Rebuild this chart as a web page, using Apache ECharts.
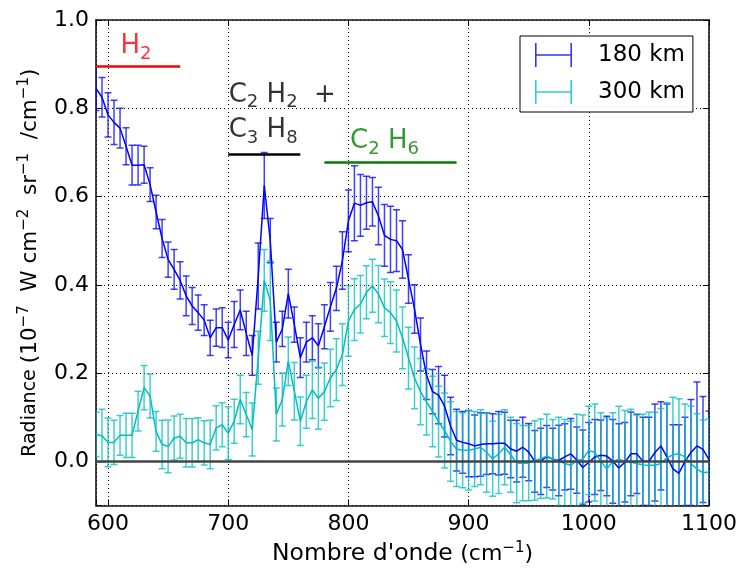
<!DOCTYPE html>
<html><head><meta charset="utf-8">
<script src="https://cdn.jsdelivr.net/npm/echarts@6/dist/echarts.min.js"></script>
<style>html,body{margin:0;padding:0;background:#fff}#c{width:741px;height:571px}</style>
</head><body><div id="c"></div>
<script>
// ---- data ----
const wavenumbers = [590,595,600,605,610,615,620,625,630,635,640,645,650,655,660,665,670,675,680,685,690,695,700,705,710,715,720,725,730,735,740,745,750,755,760,765,770,775,780,785,790,795,800,805,810,815,820,825,830,835,840,845,850,855,860,865,870,875,880,885,890,895,900,905,910,915,920,925,930,935,940,945,950,955,960,965,970,975,980,985,990,995,1000,1005,1010,1015,1020,1025,1030,1035,1040,1045,1050,1055,1060,1065,1070,1075,1080,1085,1090,1095,1100];
const radiance180 = [0.845,0.825,0.785,0.768,0.755,0.714,0.671,0.671,0.672,
  0.627,0.565,0.505,0.457,0.435,0.41,0.375,0.352,0.337,0.32,
  0.28,0.303,0.303,0.275,0.31,0.343,0.29,0.24,
  0.42,0.625,0.5,0.27,0.3,0.38,0.31,0.235,0.27,
  0.28,0.262,0.305,0.35,0.392,0.455,0.545,
  0.585,0.58,0.586,0.588,0.556,0.512,0.503,0.5,0.48,0.413,
  0.345,0.265,0.195,0.158,0.15,0.125,0.08,0.048,
  0.043,0.04,0.035,0.038,0.04,0.04,0.041,0.041,0.028,0.023,0.032,0.021,
  0.0,0.0,0.011,0.005,0.002,0.01,0.017,0.003,-0.014,-0.002,
  0.01,0.014,0.012,0.0,-0.015,-0.002,0.017,0.017,0.0,0.0,
  0.02,0.035,0.01,-0.017,-0.027,0.0,0.02,0.035,0.027,0.004];
const error180 = [0.05,0.045,0.05,0.05,0.045,0.042,0.045,0.045,0.042,
  0.038,0.038,0.043,0.04,0.045,0.042,0.045,0.042,0.04,0.035,
  0.04,0.042,0.045,0.04,0.052,0.045,0.05,0.045,
  0.075,0.075,0.05,0.045,0.04,0.055,0.04,0.045,0.045,
  0.05,0.05,0.05,0.055,0.05,0.065,0.07,
  0.085,0.07,0.06,0.055,0.065,0.07,0.075,0.07,0.065,0.055,
  0.055,0.06,0.055,0.05,0.065,0.07,0.065,0.07,
  0.07,0.075,0.07,0.072,0.07,0.068,0.072,0.07,0.065,0.07,0.068,0.065,
  0.07,0.075,0.07,0.07,0.08,0.075,0.08,0.075,0.085,0.09,
  0.085,0.08,0.09,0.095,0.1,0.09,0.095,0.09,0.1,0.1,
  0.11,0.1,0.12,0.1,0.11,0.1,0.12,0.145,0.12,0.11];
const radiance300 = [0.061,0.058,0.043,0.043,0.059,0.059,0.059,0.114,0.167,
  0.148,0.068,0.038,0.034,0.053,0.057,0.042,0.042,0.049,0.042,
  0.038,0.076,0.083,0.064,0.091,0.14,0.106,0.072,
  0.235,0.41,0.364,0.106,0.14,0.227,0.159,0.091,0.135,
  0.162,0.143,0.158,0.189,0.208,0.242,0.318,
  0.344,0.356,0.383,0.398,0.379,0.348,0.337,0.318,0.28,0.234,
  0.189,0.158,0.135,0.113,0.09,0.07,0.045,0.028,
  0.025,0.025,0.028,0.032,0.02,0.006,0.017,0.032,0.015,-0.004,-0.004,-0.004,
  0.002,0.006,0.012,0.005,0.0,-0.005,-0.009,0.002,0.005,0.025,
  0.02,0.0,-0.017,0.0,0.005,0.0,-0.002,-0.005,-0.008,-0.009,
  -0.009,-0.005,0.008,0.015,0.017,0.01,-0.005,-0.017,-0.026,-0.024];
const error300 = [0.05,0.06,0.055,0.05,0.045,0.05,0.05,0.045,0.05,
  0.05,0.045,0.055,0.06,0.05,0.05,0.055,0.055,0.05,0.05,
  0.055,0.05,0.05,0.06,0.05,0.055,0.05,0.06,
  0.06,0.07,0.09,0.06,0.06,0.055,0.065,0.055,0.06,
  0.065,0.07,0.065,0.065,0.07,0.07,0.08,
  0.07,0.065,0.06,0.06,0.065,0.065,0.07,0.07,0.07,0.07,
  0.07,0.075,0.075,0.08,0.08,0.085,0.09,0.085,
  0.085,0.09,0.085,0.085,0.09,0.085,0.09,0.085,0.085,0.09,0.085,0.085,
  0.09,0.09,0.095,0.09,0.1,0.1,0.1,0.105,0.1,0.1,
  0.11,0.11,0.115,0.11,0.12,0.115,0.12,0.11,0.115,0.12,
  0.12,0.125,0.125,0.13,0.125,0.12,0.13,0.125,0.12,0.12];
const seriesNames = ['180 km','300 km'];
const xTicks = [600,700,800,900,1000,1100];
const yTicks = [0.0,0.2,0.4,0.6,0.8,1.0];
const bandRanges = [[590,660],[700,760],[780,890]];
const bandLevels = [0.895,0.695,0.677];

// ---- build ----
const FONT = 'DejaVu Sans';
const BLUE = '#0000ff', CYAN = '#00bfbf';
const line180 = wavenumbers.map((x,i)=>[x, radiance180[i]]);
const line300 = wavenumbers.map((x,i)=>[x, radiance300[i]]);
const err180 = wavenumbers.map((x,i)=>[x, radiance180[i]-error180[i], radiance180[i]+error180[i]]);
const err300 = wavenumbers.map((x,i)=>[x, radiance300[i]-error300[i], radiance300[i]+error300[i]]);

function errRender(color){
  return function(params, api){
    const x = api.value(0);
    const lo = api.coord([x, api.value(1)]);
    const hi = api.coord([x, api.value(2)]);
    const cw = 3.5;
    const st = {stroke: color, lineWidth: 1.5, opacity: 0.75};
    return {type:'group', children:[
      {type:'line', shape:{x1:lo[0],y1:lo[1],x2:hi[0],y2:hi[1]}, style:st},
      {type:'line', shape:{x1:lo[0]-cw,y1:lo[1],x2:lo[0]+cw,y2:lo[1]}, style:st},
      {type:'line', shape:{x1:hi[0]-cw,y1:hi[1],x2:hi[0]+cw,y2:hi[1]}, style:st}
    ]};
  };
}

const legendIcon = 'path://M0,0H1.6V24H0Z M0,11.2H37V12.8H0Z M35.4,0H37V24H35.4Z';

const axisLineStyle = {color:'#111', width:1.6};
const chart = echarts.init(document.getElementById('c'), null, {renderer:'canvas'});
const subStyle = (c)=>({fontSize:18, color:c, fontFamily:FONT, padding:[15,0,0,0]});
const mainStyle = (c)=>({fontSize:26, color:c, fontFamily:FONT});

chart.setOption({
  animation:false,
  backgroundColor:'#fff',
  textStyle:{fontFamily:FONT},
  grid:{left:96, right:32, top:20, bottom:64},
  legend:{
    data:[{name:seriesNames[0], icon:legendIcon, itemStyle:{color:BLUE, opacity:0.8}},
          {name:seriesNames[1], icon:legendIcon, itemStyle:{color:CYAN, opacity:0.8}}],
    orient:'vertical', left:520, top:36,
    padding:[7,8,8,15], itemGap:13, itemWidth:37, itemHeight:24,
    borderColor:'#000', borderWidth:1, backgroundColor:'#fff',
    textStyle:{fontSize:23, color:'#000', fontFamily:FONT, padding:[0,0,0,21]}
  },
  xAxis:[{
    type:'value', min:590, max:1100, minInterval:100, maxInterval:100, splitNumber:5,
    position:'bottom',
    axisLine:{show:true, onZero:false, lineStyle:axisLineStyle},
    axisTick:{show:true, inside:true, length:6, lineStyle:{color:'#000', width:1}},
    axisLabel:{fontSize:22, color:'#000', margin:8, formatter:v=> xTicks.indexOf(v)>=0 ? String(v) : ''},
    splitLine:{show:true, lineStyle:{color:'#000', width:1, type:[1,3]}},
    name:"Nombre d'onde {p|(cm}{sup|\u22121}{p|)}", nameLocation:'middle', nameGap:35,
    nameTextStyle:{fontSize:23.5, color:'#000', fontFamily:FONT,
      rich:{p:{fontSize:22, color:'#000', fontFamily:FONT}, sup:{fontSize:15, color:'#000', fontFamily:FONT, padding:[0,0,12,0]}}}
  },{
    type:'value', min:590, max:1100, minInterval:100, maxInterval:100, splitNumber:5,
    position:'top',
    axisLine:{show:true, onZero:false, lineStyle:axisLineStyle},
    axisTick:{show:true, inside:true, length:6, lineStyle:{color:'#000', width:1}},
    axisLabel:{show:false}, splitLine:{show:false}
  }],
  yAxis:[{
    type:'value', min:-0.1, max:1.0, minInterval:0.2, maxInterval:0.2, splitNumber:5,
    position:'left',
    axisLine:{show:true, onZero:false, lineStyle:axisLineStyle},
    axisTick:{show:true, inside:true, length:6, lineStyle:{color:'#000', width:1}},
    axisLabel:{fontSize:22, color:'#000', margin:7, formatter:v=> yTicks.some(t=>Math.abs(t-v)<1e-6) ? v.toFixed(1) : ''},
    splitLine:{show:true, lineStyle:{color:'#000', width:1, type:[1,3]}},
    name:'Radiance {p|(10}{sup|\u22127}{p|  W cm}{sup|\u22122}{p|  sr}{sup|\u22121}{p|  /cm}{sup|\u22121}{p|)}',
    nameLocation:'middle', nameGap:52, nameRotate:90,
    nameTextStyle:{fontSize:19, color:'#000', fontFamily:FONT,
      rich:{p:{fontSize:21.5, color:'#000', fontFamily:FONT}, sup:{fontSize:15, color:'#000', fontFamily:FONT, padding:[0,0,12,0]}}}
  },{
    type:'value', min:-0.1, max:1.0, minInterval:0.2, maxInterval:0.2, splitNumber:5,
    position:'right',
    axisLine:{show:true, onZero:false, lineStyle:axisLineStyle},
    axisTick:{show:true, inside:true, length:6, lineStyle:{color:'#000', width:1}},
    axisLabel:{show:false}, splitLine:{show:false}
  }],
  series:[
    {name:seriesNames[0], type:'custom', data:err180, encode:{x:0, y:[1,2]}, renderItem:errRender(BLUE),
     itemStyle:{color:BLUE}, clip:true, z:2, silent:true},
    {name:seriesNames[1], type:'custom', data:err300, encode:{x:0, y:[1,2]}, renderItem:errRender(CYAN),
     itemStyle:{color:CYAN}, clip:true, z:2, silent:true},
    {name:'zero', type:'line', data:[], z:3, silent:true,
     markLine:{silent:true, symbol:'none', label:{show:false}, data:[{yAxis:0}],
       lineStyle:{color:'#444', width:2.5, type:'solid'}}},
    {name:seriesNames[0]+' line', type:'line', data:line180, showSymbol:false, z:4, silent:true,
     lineStyle:{color:BLUE, width:1.5}, itemStyle:{color:BLUE}},
    {name:seriesNames[1]+' line', type:'line', data:line300, showSymbol:false, z:4, silent:true,
     lineStyle:{color:CYAN, width:1.5}, itemStyle:{color:CYAN}},
    {name:'bands', type:'scatter', symbolSize:1, itemStyle:{color:'rgba(0,0,0,0)'}, z:6, silent:true,
     label:{show:true, position:'right', distance:0},
     data:[
       {value:[610,0.94], label:{formatter:'{a|H}{b|2}', rich:{a:mainStyle('#ff0000'), b:subStyle('#ff0000')}}},
       {value:[700,0.83], label:{formatter:'{a|C}{b|2}{a| H}{b|2}{a|  +}', rich:{a:mainStyle('#000'), b:subStyle('#000')}}},
       {value:[700,0.75], label:{formatter:'{a|C}{b|3}{a| H}{b|8}', rich:{a:mainStyle('#000'), b:subStyle('#000')}}},
       {value:[801,0.725], label:{formatter:'{a|C}{b|2}{a| H}{b|6}', rich:{a:mainStyle('#008000'), b:subStyle('#008000')}}}
     ],
     markLine:{silent:true, symbol:'none', label:{show:false}, data:[
       [{coord:[bandRanges[0][0],bandLevels[0]], lineStyle:{color:'#ff0000', width:2.5, type:'solid'}},{coord:[bandRanges[0][1],bandLevels[0]]}],
       [{coord:[bandRanges[1][0],bandLevels[1]], lineStyle:{color:'#000', width:2.5, type:'solid'}},{coord:[bandRanges[1][1],bandLevels[1]]}],
       [{coord:[bandRanges[2][0],bandLevels[2]], lineStyle:{color:'#008000', width:2.5, type:'solid'}},{coord:[bandRanges[2][1],bandLevels[2]]}]
     ]}}
  ]
});
</script>
</body></html>
